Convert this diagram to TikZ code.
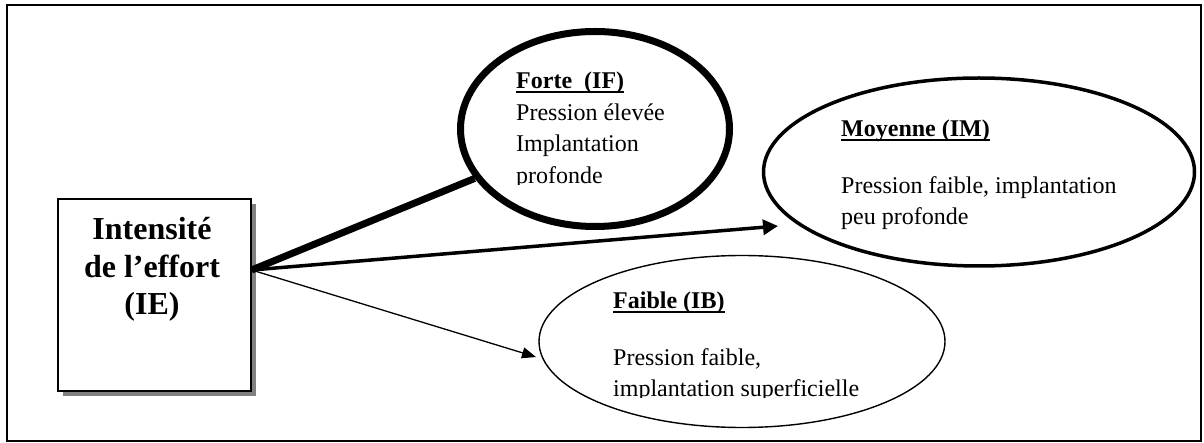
\documentclass[tikz,border=0pt]{standalone}
\usepackage{fontspec}
\setmainfont{Liberation Serif}
\usetikzlibrary{arrows.meta,shapes.geometric,shadows}
\newcommand\ulbox[1]{\setbox0=\hbox{#1}\rlap{\rule[-4pt]{\wd0}{2.2pt}}\box0}
\begin{document}
\begin{tikzpicture}[x=1pt,y=-1pt,
  bodytxt/.style={font=\fontsize{24}{30}\selectfont, inner sep=0pt, anchor=base west},
  titletxt/.style={font=\fontsize{24}{30}\selectfont\bfseries, inner sep=0pt, anchor=base west},
  ietxt/.style={font=\fontsize{32}{37}\selectfont\bfseries, inner sep=0pt, anchor=base},
  bubble/.style={ellipse, draw, inner sep=0pt},
  ]
\useasboundingbox (0,0) rectangle (1204,443);
\draw[line width=2.5pt] (7,5) rectangle (1201,441);

% central box with shadow
\node[draw, line width=1.3pt, fill=white, minimum width=193pt, minimum height=192pt, inner sep=0pt,
      drop shadow={shadow xshift=5pt, shadow yshift=-5pt, fill=gray, opacity=1}] (IE) at (154.5,295) {};
\node[ietxt] (ie1) at (152,240) {Intensité};
\node[ietxt] (ie2) at (152,278) {de l’effort};
\node[ietxt] (ie3) at (152,315) {(IE)};

% ellipses
\node[bubble, line width=7pt, minimum width=269pt, minimum height=195pt] (F) at (595,129) {};
\node[bubble, line width=3.5pt, minimum width=431pt, minimum height=188pt] (M) at (979,172) {};
\node[bubble, line width=1.4pt, minimum width=406pt, minimum height=172pt] (B) at (742,341.5) {};

% connectors
\coordinate (o) at ([yshift=25pt]IE.east);
\coordinate (mt) at (778,226);
\coordinate (bt) at (536,357);
\draw[line width=7pt] (o) -- (F);
\draw[line width=3.5pt, -{Triangle[length=15pt,width=15pt]}] (o) -- (mt);
\draw[line width=1.3pt, -{Triangle[length=14pt,width=11pt]}] (o) -- (bt);

% Forte text (clipped)
\begin{scope}
\clip (500,60) rectangle (720,185);
\node[titletxt] (f0) at (516,89) {\ulbox{Forte~~(IF)}};
\node[bodytxt] (f1) at (516,120.5) {Pression élevée};
\node[bodytxt] (f2) at (516,152) {Implantation};
\node[bodytxt] (f3) at (516,183.5) {profonde};
\end{scope}

% Moyenne text
\node[titletxt] (m0) at (841,137) {\ulbox{Moyenne (IM)}};
\node[bodytxt] (m1) at (841,194) {Pression faible, implantation};
\node[bodytxt] (m2) at (841,225) {peu profonde};

% Faible text (clipped)
\begin{scope}
\clip (600,280) rectangle (900,397);
\node[titletxt] (b0) at (613,309) {\ulbox{Faible (IB)}};
\node[bodytxt] (b1) at (613,366) {Pression faible,};
\node[bodytxt] (b2) at (613,396) {implantation superficielle};
\end{scope}
\end{tikzpicture}
\end{document}
